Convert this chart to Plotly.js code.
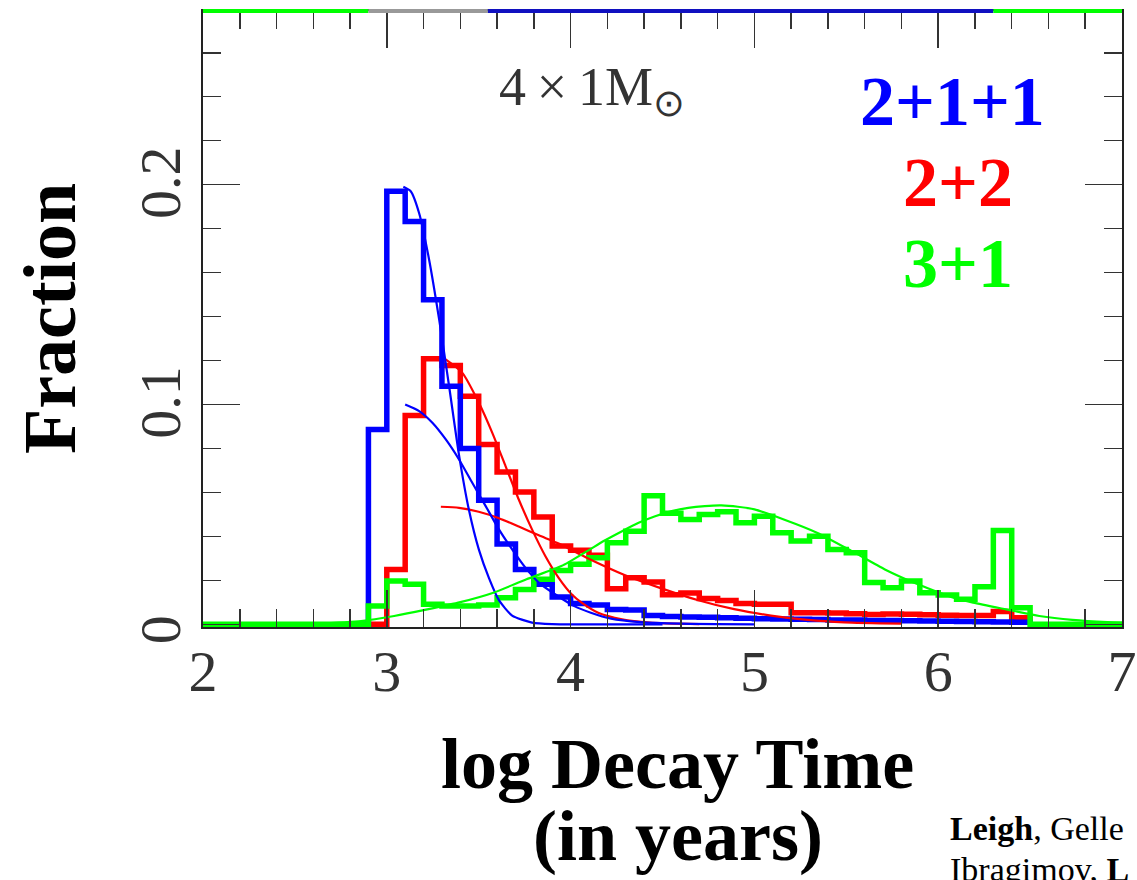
<!DOCTYPE html>
<html>
<head>
<meta charset="utf-8">
<script src="https://cdn.plot.ly/plotly-3.0.1.min.js"></script>
<style>
  html, body { margin: 0; padding: 0; background: #fff; }
  #chart { width: 1137px; height: 880px; }
</style>
</head>
<body>
<div id="chart"></div>
<script>
// Left edges of the 0.1-dex histogram bins (log decay time, years)
const binEdges = [2.9, 3.0, 3.1, 3.2, 3.3, 3.4, 3.5, 3.6, 3.7, 3.8, 3.9,
                  4.0, 4.1, 4.2, 4.3, 4.4, 4.5, 4.6, 4.7, 4.8, 4.9,
                  5.0, 5.1, 5.2, 5.3, 5.4, 5.5, 5.6, 5.7, 5.8, 5.9,
                  6.0, 6.1, 6.2, 6.3, 6.4];
const lastEdge = 6.5;

// Fraction of runs per bin for each disruption channel
const frac211 = [0.0886, 0.197, 0.1833, 0.1477, 0.1083, 0.080, 0.0565, 0.0366, 0.025, 0.0182, 0.0124,
                 0.0095, 0.0088, 0.0068, 0.0065, 0.0040, 0.0036, 0.0034, 0.0032, 0.0030, 0.0028,
                 0.0026, 0.0024, 0.0023, 0.0022, 0.0020, 0.0020, 0.0018, 0.0017, 0.0016, 0.0015,
                 0.0014, 0.0013, 0.0012, 0.0011, 0.0010];
const frac22  = [0.0, 0.025, 0.0950, 0.1208, 0.1177, 0.1038, 0.0818, 0.0693, 0.0602, 0.0488, 0.0356,
                 0.0337, 0.0314, 0.0162, 0.0212, 0.0193, 0.0135, 0.0143, 0.0118, 0.0109, 0.0095,
                 0.0091, 0.0091, 0.0053, 0.0053, 0.0052, 0.0048, 0.0045, 0.0047, 0.0046, 0.0044,
                 0.0042, 0.0040, 0.0040, 0.0058, 0.0030];
const frac31  = [0.0083, 0.0197, 0.0182, 0.0091, 0.0083, 0.0083, 0.0088, 0.0121, 0.0159, 0.0205, 0.0245,
                 0.0273, 0.0303, 0.0371, 0.0424, 0.0585, 0.0505, 0.0477, 0.0500, 0.0512, 0.0462,
                 0.0492, 0.0417, 0.0379, 0.0401, 0.0341, 0.0326, 0.0190, 0.0167, 0.0197, 0.0144,
                 0.0134, 0.0114, 0.0171, 0.0427, 0.0076];

// Fitted curves (x = log decay time, y = fraction)
const fit211aX = [3.09, 3.13, 3.176, 3.23, 3.285, 3.339, 3.393, 3.447, 3.501, 3.556, 3.61, 3.682, 3.79, 3.9, 4.2, 4.5];
const fit211aY = [0.199, 0.197, 0.187, 0.166, 0.1386, 0.1083, 0.077, 0.052, 0.034, 0.021, 0.011, 0.004, 0.0008, 0.0001, 0.0, 0.0];
const fit211bX = [3.10, 3.176, 3.248, 3.321, 3.393, 3.465, 3.538, 3.61, 3.682, 3.754, 3.827, 3.93, 4.02, 4.11, 4.22, 4.38, 4.6, 5.0];
const fit211bY = [0.100, 0.097, 0.0917, 0.0841, 0.075, 0.0644, 0.0538, 0.0432, 0.0341, 0.0258, 0.019, 0.0129, 0.0083, 0.0053, 0.0026, 0.0010, 0.0003, 0.0];
const fit22aX  = [3.32, 3.411, 3.501, 3.574, 3.646, 3.718, 3.79, 3.863, 3.935, 4.007, 4.06, 4.15, 4.28, 4.43, 4.7];
const fit22aY  = [0.1205, 0.1144, 0.1008, 0.0871, 0.072, 0.0568, 0.0432, 0.031, 0.0212, 0.0136, 0.0099, 0.0053, 0.0023, 0.0008, 0.0001];
const fit22bX  = [3.294, 3.393, 3.50, 3.61, 3.718, 3.827, 3.935, 4.09, 4.29, 4.49, 4.69, 4.89, 5.09, 5.29, 5.49, 5.8];
const fit22bY  = [0.0535, 0.053, 0.0512, 0.0483, 0.0445, 0.0405, 0.0368, 0.0302, 0.0226, 0.0165, 0.0111, 0.0069, 0.004, 0.002, 0.0009, 0.0003];
const fit31X   = [2.6, 2.86, 3.04, 3.22, 3.40, 3.58, 3.76, 3.95, 4.09, 4.18, 4.28, 4.37, 4.46, 4.55, 4.64, 4.73, 4.82, 4.91,
                  5.0, 5.16, 5.34, 5.53, 5.71, 5.89, 6.07, 6.19, 6.37, 6.55, 6.73, 6.92, 7.0];
const fit31Y   = [0.0002, 0.0015, 0.0038, 0.0068, 0.0101, 0.0144, 0.0205, 0.0265, 0.0333, 0.0379, 0.0424, 0.0462, 0.0492, 0.0515, 0.053, 0.0538, 0.0541, 0.0535,
                  0.0523, 0.0477, 0.0417, 0.0333, 0.025, 0.0182, 0.0125, 0.0099, 0.0068, 0.0038, 0.002, 0.001, 0.0008];

// Axis tick labels
const xTickVals = [2, 3, 4, 5, 6, 7];
const xTickText = ['2', '3', '4', '5', '6', '7'];
const yTickVals = [0, 0.1, 0.2];
const yTickText = ['0', '\u00a00.1', '\u00a00.2'];

const BLUE = '#0000ff', RED = '#ff0000', GREEN = '#00ff00';

// Build a closed step outline from bin edges and fractions
function steps(values, startX, tailX) {
  const xs = [startX], ys = [0];
  binEdges.forEach((e, i) => { xs.push(e); ys.push(values[i]); });
  xs.push(lastEdge); ys.push(0);
  if (tailX !== undefined) { xs.push(tailX); ys.push(0); }
  return { x: xs, y: ys };
}

const h211 = steps(frac211, 2.8);
const h22 = steps(frac22, 2.8);
const h31 = steps(frac31, 2.0, 7.0);

const histLine = (c) => ({ color: c, width: 5.5, shape: 'hv' });
const fitLine = (c) => ({ color: c, width: 2.2, shape: 'spline', smoothing: 0.6 });

const traces = [
  { x: h22.x,  y: h22.y,  mode: 'lines', line: histLine(RED),   name: '2+2' },
  { x: h211.x, y: h211.y, mode: 'lines', line: histLine(BLUE),  name: '2+1+1' },
  { x: h31.x,  y: h31.y,  mode: 'lines', line: histLine(GREEN), name: '3+1' },
  { x: fit22aX,  y: fit22aY,  mode: 'lines', line: fitLine(RED),   name: '2+2 fit' },
  { x: fit22bX,  y: fit22bY,  mode: 'lines', line: fitLine(RED),   name: '2+2 fit' },
  { x: fit211aX, y: fit211aY, mode: 'lines', line: fitLine(BLUE),  name: '2+1+1 fit' },
  { x: fit211bX, y: fit211bY, mode: 'lines', line: fitLine(BLUE),  name: '2+1+1 fit' },
  { x: fit31X,   y: fit31Y,   mode: 'lines', line: fitLine(GREEN), name: '3+1 fit' }
];

const serif = 'Liberation Serif, Times New Roman, serif';

const axisCommon = {
  showgrid: false,
  zeroline: false,
  showline: true,
  linecolor: '#222',
  linewidth: 2,
  mirror: 'allticks',
  ticks: 'inside',
  ticklen: 37,
  tickwidth: 1.5,
  tickcolor: '#333',
  tickfont: { family: serif, size: 58, color: '#333' },
  fixedrange: true
};

const layout = {
  width: 1137,
  height: 880,
  margin: { l: 203, r: 15, t: 11, b: 253 },
  paper_bgcolor: '#ffffff',
  plot_bgcolor: '#ffffff',
  showlegend: false,
  xaxis: Object.assign({}, axisCommon, {
    range: [2, 7],
    tickmode: 'array',
    tickvals: xTickVals,
    ticktext: xTickText,
    ticklabelstandoff: -8,
    minor: { dtick: 0.2, ticklen: 18, tickwidth: 1.5, tickcolor: '#333', ticks: 'inside' }
  }),
  yaxis: Object.assign({}, axisCommon, {
    range: [-0.0012, 0.279],
    tickmode: 'array',
    tickvals: yTickVals,
    ticktext: yTickText,
    tickangle: -90,
    ticklabelstandoff: -2,
    ticklabelshift: 14,
    minor: { dtick: 0.02, tick0: 0, ticklen: 18, tickwidth: 1.5, tickcolor: '#333', ticks: 'inside' }
  }),
  shapes: [
    { type: 'line', xref: 'x', yref: 'paper', x0: 2.0, x1: 2.9, y0: 1, y1: 1, line: { color: GREEN, width: 4 } },
    { type: 'line', xref: 'x', yref: 'paper', x0: 2.9, x1: 3.55, y0: 1, y1: 1, line: { color: '#999999', width: 4 } },
    { type: 'line', xref: 'x', yref: 'paper', x0: 3.55, x1: 6.3, y0: 1, y1: 1, line: { color: '#1010c0', width: 4 } },
    { type: 'line', xref: 'x', yref: 'paper', x0: 6.3, x1: 7.0, y0: 1, y1: 1, line: { color: GREEN, width: 4 } }
  ],
  annotations: [
    { xref: 'paper', yref: 'paper', x: 0.0, y: 0.5, xshift: -153, textangle: -90,
      text: '<b>Fraction</b>', showarrow: false, xanchor: 'center', yanchor: 'middle',
      font: { family: serif, size: 74, color: '#000' } },
    { xref: 'paper', yref: 'paper', x: 0.5, y: 0, yshift: -137, xshift: 15,
      text: '<b>log Decay Time</b>', showarrow: false, xanchor: 'center', yanchor: 'middle',
      font: { family: serif, size: 72, color: '#000' } },
    { xref: 'paper', yref: 'paper', x: 0.5, y: 0, yshift: -209, xshift: 15,
      text: '<b>(in years)</b>', showarrow: false, xanchor: 'center', yanchor: 'middle',
      font: { family: serif, size: 72, color: '#000' } },
    { xref: 'x', yref: 'y', x: 3.6, y: 0.243, text: '4\u2009\u00d7\u20091M<sub>\u2299</sub>', showarrow: false,
      xanchor: 'left', yanchor: 'middle', font: { family: serif, size: 54, color: '#333' } },
    { xref: 'x', yref: 'y', x: 6.08, y: 0.238, text: '<b>2+1+1</b>', showarrow: false,
      xanchor: 'center', yanchor: 'middle', font: { family: serif, size: 70, color: BLUE } },
    { xref: 'x', yref: 'y', x: 6.11, y: 0.201, text: '<b>2+2</b>', showarrow: false,
      xanchor: 'center', yanchor: 'middle', font: { family: serif, size: 70, color: RED } },
    { xref: 'x', yref: 'y', x: 6.11, y: 0.164, text: '<b>3+1</b>', showarrow: false,
      xanchor: 'center', yanchor: 'middle', font: { family: serif, size: 70, color: GREEN } },
    { xref: 'paper', yref: 'paper', x: 0, y: 0, xshift: 745, yshift: -201,
      text: '<b>Leigh</b>, Gelle', showarrow: false, xanchor: 'left', yanchor: 'middle',
      font: { family: serif, size: 34, color: '#000' } },
    { xref: 'paper', yref: 'paper', x: 0, y: 0, xshift: 745, yshift: -242,
      text: 'Ibragimov, <b>L</b>', showarrow: false, xanchor: 'left', yanchor: 'middle',
      font: { family: serif, size: 34, color: '#000' } }
  ]
};

Plotly.newPlot('chart', traces, layout, { staticPlot: true, displayModeBar: false });
</script>
</body>
</html>
